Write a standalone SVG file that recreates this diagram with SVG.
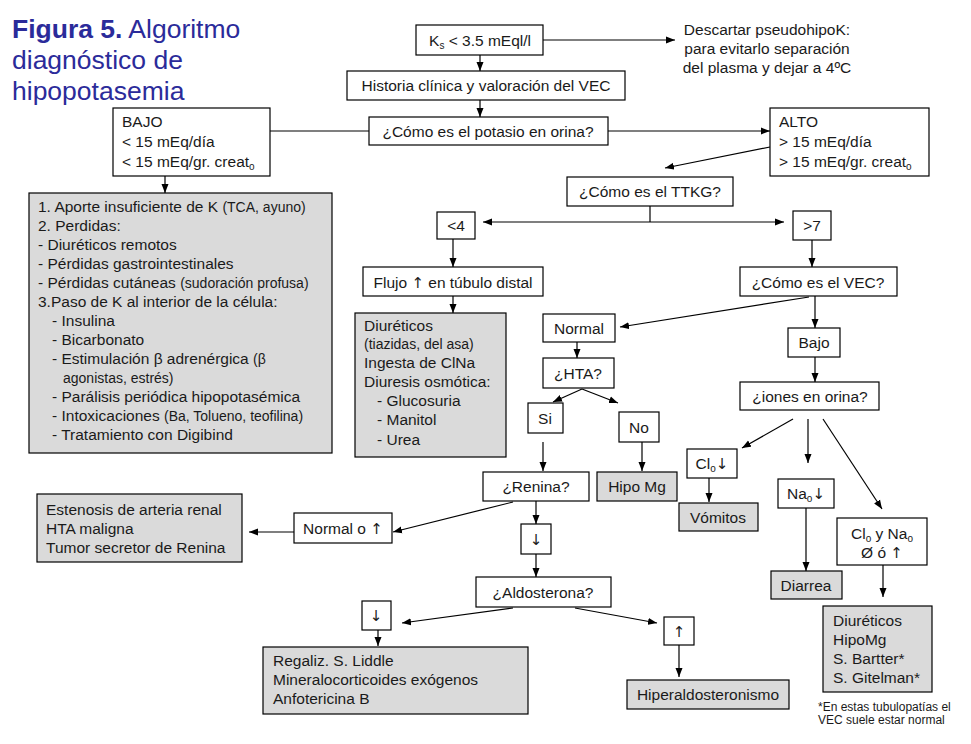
<svg xmlns="http://www.w3.org/2000/svg" width="971" height="744" viewBox="0 0 971 744">
<style>
text{font-family:"Liberation Sans",Arial,sans-serif;font-size:15.5px;fill:#1a1a1a}
.c{text-anchor:middle}
.s{font-size:14px}
.sub{font-size:10px}
.ar{font-family:"DejaVu Sans","Liberation Sans",sans-serif;font-size:15px;fill:#1a1a1a}
.b{fill:#fff;stroke:#000;stroke-width:1.2}
.g{fill:#dadada;stroke:#000;stroke-width:1.2}
.t{font-size:26.5px;fill:#2b2b9a}
.fn{font-size:12px}
#connectors path{fill:none;stroke:#000;stroke-width:1.2}
</style>
<defs>
<marker id="a" markerUnits="userSpaceOnUse" markerWidth="10" markerHeight="8" refX="9" refY="4" orient="auto"><path d="M0,0.5 L9,4 L0,7.5 z" fill="#000"/></marker>
</defs>
<rect width="971" height="744" fill="#fff"/>
<g id="title">
<text x="12" y="38" class="t"><tspan font-weight="bold">Figura 5.</tspan> Algoritmo</text>
<text x="12" y="69" class="t">diagnóstico de</text>
<text x="12" y="100" class="t">hipopotasemia</text>
</g>
<g id="connectors">
<path d="M543,40 L675,40" marker-end="url(#a)"/>
<path d="M480,55 L480,71" marker-end="url(#a)"/>
<path d="M480,100 L480,117" marker-end="url(#a)"/>
<path d="M369,131 L270,131"/>
<path d="M608,131 L770,131" marker-end="url(#a)"/>
<path d="M165,176 L165,193" marker-end="url(#a)"/>
<path d="M770,147 L665,168" marker-end="url(#a)"/>
<path d="M650,206 L650,222"/>
<path d="M650,222 L483,222" marker-end="url(#a)"/>
<path d="M650,222 L784,222" marker-end="url(#a)"/>
<path d="M453,239 L453,267" marker-end="url(#a)"/>
<path d="M453,296 L453,313" marker-end="url(#a)"/>
<path d="M812,240 L812,267" marker-end="url(#a)"/>
<path d="M809,297 L620,327" marker-end="url(#a)"/>
<path d="M815,296 L815,328" marker-end="url(#a)"/>
<path d="M577,342 L577,358" marker-end="url(#a)"/>
<path d="M582,389 L553,402" marker-end="url(#a)"/>
<path d="M582,389 L618,403" marker-end="url(#a)"/>
<path d="M543,442 L543,471" marker-end="url(#a)"/>
<path d="M642,442 L642,471" marker-end="url(#a)"/>
<path d="M815,357 L815,382" marker-end="url(#a)"/>
<path d="M793,419 L742,448" marker-end="url(#a)"/>
<path d="M808,419 L808,463" marker-end="url(#a)"/>
<path d="M823,419 L882,509" marker-end="url(#a)"/>
<path d="M709,478 L709,502" marker-end="url(#a)"/>
<path d="M806,508 L806,571" marker-end="url(#a)"/>
<path d="M883,565 L883,597" marker-end="url(#a)"/>
<path d="M513,502 L393,532" marker-end="url(#a)"/>
<path d="M294,532 L249,532" marker-end="url(#a)"/>
<path d="M536,501 L536,524" marker-end="url(#a)"/>
<path d="M536,554 L536,577" marker-end="url(#a)"/>
<path d="M513,608 L402,623" marker-end="url(#a)"/>
<path d="M575,608 L657,623" marker-end="url(#a)"/>
<path d="M378,630 L378,646" marker-end="url(#a)"/>
<path d="M679,645 L679,677" marker-end="url(#a)"/>
</g>
<g id="ks"><rect class="b" x="416" y="25" width="127" height="30"/><text x="480" y="46" class="c">K<tspan class="sub" dy="3">s</tspan><tspan dy="-3"> &lt; 3.5 mEql/l</tspan></text></g>
<g id="descartar"><text x="767" y="35" class="c">Descartar pseudohipoK:</text><text x="767" y="54" class="c">para evitarlo separación</text><text x="767" y="73" class="c">del plasma y dejar a 4ºC</text></g>
<g id="historia"><rect class="b" x="347" y="71" width="278" height="29"/><text x="486" y="91" class="c">Historia clínica  y valoración del VEC</text></g>
<g id="potasio"><rect class="b" x="369" y="117" width="239" height="28"/><text x="488" y="137" class="c">¿Cómo es el potasio en orina?</text></g>
<g id="bajo"><rect class="b" x="113" y="108" width="157" height="68"/><text x="122" y="127">BAJO</text><text x="122" y="147">&lt; 15 mEq/día</text><text x="122" y="167">&lt; 15 mEq/gr. creat<tspan class="sub" dy="3">o</tspan></text></g>
<g id="alto"><rect class="b" x="770" y="108" width="159" height="68"/><text x="779" y="127">ALTO</text><text x="779" y="147">&gt; 15 mEq/día</text><text x="779" y="167">&gt; 15 mEq/gr. creat<tspan class="sub" dy="3">o</tspan></text></g>
<g id="causas-bajo"><rect class="g" x="29" y="193" width="303" height="260"/>
<text x="38" y="212">1. Aporte insuficiente  de K <tspan class="s">(TCA, ayuno)</tspan></text>
<text x="38" y="231">2. Perdidas:</text>
<text x="38" y="250">- Diuréticos remotos</text>
<text x="38" y="269">- Pérdidas gastrointestinales</text>
<text x="38" y="288">- Pérdidas cutáneas <tspan class="s">(sudoración profusa)</tspan></text>
<text x="38" y="307">3.Paso de K al interior de la célula:</text>
<text x="52" y="326">- Insulina</text>
<text x="52" y="345">- Bicarbonato</text>
<text x="52" y="364">- Estimulación β adrenérgica <tspan class="s">(β</tspan></text>
<text x="63" y="383" class="s">agonistas, estrés)</text>
<text x="52" y="402">- Parálisis periódica hipopotasémica</text>
<text x="52" y="421">- Intoxicaciones <tspan class="s">(Ba, Tolueno, teofilina)</tspan></text>
<text x="52" y="440">- Tratamiento con Digibind</text>
</g>
<g id="ttkg"><rect class="b" x="567" y="177" width="166" height="29"/><text x="650" y="197" class="c">¿Cómo es el TTKG?</text></g>
<g id="menor4"><rect class="b" x="437" y="212" width="38" height="27"/><text x="456" y="231" class="c">&lt;4</text></g>
<g id="mayor7"><rect class="b" x="793" y="211" width="38" height="29"/><text x="812" y="231" class="c">&gt;7</text></g>
<g id="flujo"><rect class="b" x="363" y="267" width="180" height="29"/><text x="453" y="288" class="c">Flujo <tspan class="ar">↑</tspan> en túbulo  distal</text></g>
<g id="diureticos"><rect class="g" x="355" y="313" width="151" height="144"/>
<text x="364" y="331">Diuréticos</text>
<text x="364" y="349" class="s">(tiazidas, del asa)</text>
<text x="364" y="368">Ingesta  de ClNa</text>
<text x="364" y="387">Diuresis osmótica:</text>
<text x="377" y="406">- Glucosuria</text>
<text x="377" y="425">- Manitol</text>
<text x="377" y="445">- Urea</text>
</g>
<g id="vec"><rect class="b" x="740" y="267" width="157" height="29"/><text x="818" y="288" class="c">¿Cómo es el VEC?</text></g>
<g id="normal"><rect class="b" x="543" y="314" width="72" height="28"/><text x="579" y="334" class="c">Normal</text></g>
<g id="hta"><rect class="b" x="543" y="358" width="71" height="30"/><text x="578" y="379" class="c">¿HTA?</text></g>
<g id="si"><rect class="b" x="528" y="403" width="35" height="30"/><text x="545" y="424" class="c">Si</text></g>
<g id="no"><rect class="b" x="619" y="412" width="40" height="30"/><text x="639" y="433" class="c">No</text></g>
<g id="renina"><rect class="b" x="483" y="472" width="106" height="29"/><text x="536" y="492" class="c">¿Renina?</text></g>
<g id="hipomg"><rect class="g" x="597" y="472" width="80" height="29"/><text x="637" y="492" class="c">Hipo Mg</text></g>
<g id="bajo-vec"><rect class="b" x="788" y="328" width="52" height="29"/><text x="814" y="348" class="c">Bajo</text></g>
<g id="iones"><rect class="b" x="740" y="382" width="139" height="28"/><text x="810" y="402" class="c">¿iones en orina?</text></g>
<g id="clo"><rect class="b" x="687" y="449" width="50" height="29"/><text x="712" y="469" class="c">Cl<tspan class="sub" dy="3">o</tspan><tspan class="ar" dy="-3">↓</tspan></text></g>
<g id="vomitos"><rect class="g" x="679" y="503" width="79" height="28"/><text x="718" y="523" class="c">Vómitos</text></g>
<g id="nao"><rect class="b" x="778" y="479" width="56" height="29"/><text x="806" y="499" class="c">Na<tspan class="sub" dy="3">o</tspan><tspan class="ar" dy="-3">↓</tspan></text></g>
<g id="diarrea"><rect class="g" x="771" y="571" width="71" height="28"/><text x="806" y="591" class="c">Diarrea</text></g>
<g id="clona"><rect class="b" x="837" y="518" width="90" height="47"/><text x="882" y="539" class="c">Cl<tspan class="sub" dy="3">o</tspan><tspan dy="-3">  y  Na</tspan><tspan class="sub" dy="3">o</tspan></text><text x="882" y="558" class="c">Ø ó <tspan class="ar">↑</tspan></text></g>
<g id="tubulopatias"><rect class="g" x="823" y="606" width="109" height="86"/>
<text x="833" y="626">Diuréticos</text>
<text x="833" y="645">HipoMg</text>
<text x="833" y="664">S. Bartter*</text>
<text x="833" y="683">S. Gitelman*</text>
</g>
<g id="nota"><text x="818" y="711" class="fn">*En estas tubulopatías el</text><text x="818" y="724" class="fn">VEC  suele estar normal</text></g>
<g id="normal-o"><rect class="b" x="294" y="513" width="98" height="30"/><text x="343" y="534" class="c">Normal o <tspan class="ar">↑</tspan></text></g>
<g id="estenosis"><rect class="g" x="37" y="494" width="205" height="68"/>
<text x="46" y="515">Estenosis de arteria renal</text>
<text x="46" y="534">HTA maligna</text>
<text x="46" y="553">Tumor  secretor de Renina</text>
</g>
<g id="renina-baja"><rect class="b" x="521" y="524" width="30" height="30"/><text x="536" y="545" class="c ar">↓</text></g>
<g id="aldosterona"><rect class="b" x="476" y="577" width="135" height="30"/><text x="543" y="598" class="c">¿Aldosterona?</text></g>
<g id="aldo-baja"><rect class="b" x="362" y="601" width="29" height="29"/><text x="376" y="621" class="c ar">↓</text></g>
<g id="regaliz"><rect class="g" x="263" y="647" width="265" height="67"/>
<text x="273" y="666">Regaliz. S. Liddle</text>
<text x="273" y="685">Mineralocorticoides exógenos</text>
<text x="273" y="704">Anfotericina  B</text>
</g>
<g id="aldo-alta"><rect class="b" x="664" y="617" width="30" height="28"/><text x="679" y="637" class="c ar">↑</text></g>
<g id="hiperaldo"><rect class="g" x="627" y="680" width="162" height="29"/><text x="708" y="700" class="c">Hiperaldosteronismo</text></g>
</svg>
